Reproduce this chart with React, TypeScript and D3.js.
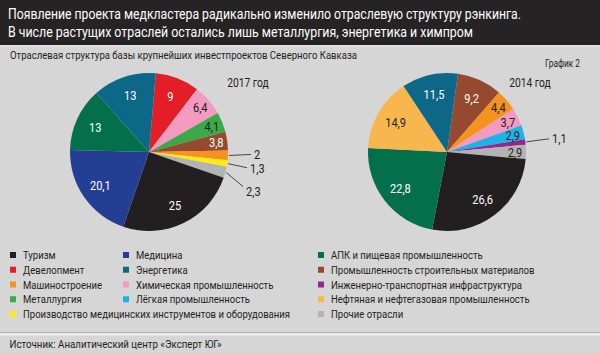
import React, { useEffect, useRef } from 'react';
import * as d3 from 'd3';

const titleLines = [
  'Появление проекта медкластера радикально изменило отраслевую структуру рэнкинга.',
  'В числе растущих отраслей остались лишь металлургия, энергетика и химпром',
];
const subtitle = 'Отраслевая структура базы крупнейших инвестпроектов Северного Кавказа';
const chartNo = 'График 2';
const sourceText = 'Источник: Аналитический центр «Эксперт ЮГ»';

const industries = [
  { key: 'tour', name: 'Туризм', color: '#231f20', text: '#fff' },
  { key: 'dev', name: 'Девелопмент', color: '#e41e26', text: '#fff' },
  { key: 'mash', name: 'Машиностроение', color: '#f6921e', text: '#231f20' },
  { key: 'met', name: 'Металлургия', color: '#3aaa49', text: '#231f20' },
  { key: 'medinst', name: 'Производство медицинских инструментов и оборудования', color: '#fdeb12', text: '#231f20' },
  { key: 'med', name: 'Медицина', color: '#233e92', text: '#fff' },
  { key: 'energy', name: 'Энергетика', color: '#0d6887', text: '#fff' },
  { key: 'chem', name: 'Химическая промышленность', color: '#f39ac0', text: '#231f20' },
  { key: 'light', name: 'Лёгкая промышленность', color: '#1db3e8', text: '#231f20' },
  { key: 'agro', name: 'АПК и пищевая промышленность', color: '#03704b', text: '#fff' },
  { key: 'build', name: 'Промышленность строительных материалов', color: '#954a30', text: '#fff' },
  { key: 'infra', name: 'Инженерно-транспортная инфраструктура', color: '#93288f', text: '#fff' },
  { key: 'oil', name: 'Нефтяная и нефтегазовая промышленность', color: '#f8b74e', text: '#231f20' },
  { key: 'other', name: 'Прочие отрасли', color: '#b3b3b3', text: '#231f20' },
];

// legend columns (keys, top to bottom)
const legendColumns = [
  ['tour', 'dev', 'mash', 'met', 'medinst'],
  ['med', 'energy', 'chem', 'light'],
  ['agro', 'build', 'infra', 'oil', 'other'],
];

// slices clockwise from 12 o'clock
const keys2017 = ['dev', 'chem', 'met', 'build', 'mash', 'medinst', 'other', 'tour', 'med', 'agro', 'energy'];
const values2017 = [9, 6.4, 4.1, 3.8, 2, 1.3, 2.3, 25, 20.1, 13, 13];
const outside2017 = ['mash', 'medinst', 'other'];

const keys2014 = ['build', 'mash', 'chem', 'light', 'infra', 'other', 'tour', 'agro', 'oil', 'energy'];
const values2014 = [9.2, 4.4, 3.7, 2.9, 1.1, 2.9, 26.6, 22.8, 14.9, 11.5];
const outside2014 = ['infra'];

const FONT = "Roboto, 'Liberation Sans', sans-serif";
const INK = '#231f20';
const fmt = (v: number) => String(v).replace('.', ',');

type Slice = { key: string; value: number };

export default function App() {
  const svgRef = useRef<SVGSVGElement>(null);

  useEffect(() => {
    if (!svgRef.current) return;
    const svg = d3.select(svgRef.current);
    svg.selectAll('*').remove();
    const width = 600;
    const height = 354;
    const byKey = new Map(industries.map((d) => [d.key, d]));

    // squeeze text horizontally, the original uses a condensed face
    const squeeze = (sel: any, k: number) => {
      const w = (sel.node() as SVGTextElement).getComputedTextLength();
      sel.attr('textLength', w * k).attr('lengthAdjust', 'spacingAndGlyphs');
    };
    const fitTo = (sel: any, target: number) => {
      sel.attr('textLength', target).attr('lengthAdjust', 'spacingAndGlyphs');
    };

    svg.append('rect').attr('width', width).attr('height', height).attr('fill', '#d6d6d6');
    svg.append('rect').attr('width', width).attr('height', 45).attr('fill', '#262324');
    svg.append('rect').attr('y', 45).attr('width', width).attr('height', 2).attr('fill', '#e0e0e0');

    const titleWidths = [513, 465];
    titleLines.forEach((t, i) => {
      const s = svg.append('text')
        .attr('x', 8)
        .attr('y', 18.5 + i * 18.5)
        .attr('font-family', FONT)
        .style('font-size', '14.5px')
        .style('fill', '#fff')
        .text(t);
      fitTo(s, titleWidths[i]);
    });

    const sub = svg.append('text')
      .attr('x', 10)
      .attr('y', 59)
      .attr('font-family', FONT)
      .style('font-size', '11px')
      .style('fill', INK)
      .text(subtitle);
    fitTo(sub, 347);

    const gr = svg.append('text')
      .attr('x', 545)
      .attr('y', 66.5)
      .attr('font-family', FONT)
      .style('font-size', '10px')
      .style('fill', INK)
      .text(chartNo);
    fitTo(gr, 35);

    const r = 79;
    const pies = [
      { cx: 149, cy: 152, year: '2017 год', yearX: 248, keys: keys2017, values: values2017, outside: outside2017, offset: 5, leaderDy: [-1, 4, 14], labelDy: [0, 1, 5] },
      { cx: 447, cy: 152, year: '2014 год', yearX: 530, keys: keys2014, values: values2014, outside: outside2014, offset: 8, leaderDy: [-3], labelDy: [-1] },
    ];

    pies.forEach((p) => {
      const data: Slice[] = p.keys.map((k, i) => ({ key: k, value: p.values[i] }));
      const off = (p.offset * Math.PI) / 180;
      const arcs = d3.pie<Slice>()
        .sort(null)
        .value((d) => d.value)
        .startAngle(off)
        .endAngle(2 * Math.PI + off)(data);
      const arc = d3.arc<d3.PieArcDatum<Slice>>().innerRadius(0).outerRadius(r);
      const g = svg.append('g').attr('transform', `translate(${p.cx},${p.cy})`);

      g.selectAll('path')
        .data(arcs)
        .enter()
        .append('path')
        .attr('d', arc)
        .attr('fill', (d) => byKey.get(d.data.key)!.color);

      const outsideArcs = arcs.filter((d) => p.outside.includes(d.data.key));
      const inside = arcs.filter((d) => !p.outside.includes(d.data.key));

      g.selectAll('text.in')
        .data(inside)
        .enter()
        .append('text')
        .attr('class', 'in')
        .attr('transform', (d) => {
          const k = d.data.value >= 8 ? 0.75 : 0.86;
          const c = d3.arc<d3.PieArcDatum<Slice>>().innerRadius(0).outerRadius(r * k * 2).centroid(d);
          return `translate(${c[0]},${c[1]})`;
        })
        .attr('text-anchor', 'middle')
        .attr('dy', '0.36em')
        .attr('font-family', FONT)
        .style('font-size', '13px')
        .style('fill', (d) => byKey.get(d.data.key)!.text)
        .text((d) => fmt(d.data.value))
        .each(function () {
          squeeze(d3.select(this), 0.85);
        });

      // leader lines for thin slices
      outsideArcs.forEach((d, i) => {
        const mid = (d.startAngle + d.endAngle) / 2;
        const sx = Math.sin(mid) * (r + 1);
        const sy = -Math.cos(mid) * (r + 1);
        const ex = r + 23 - i * 4;
        const ey = sy + p.leaderDy[i];
        g.append('line')
          .attr('x1', sx)
          .attr('y1', sy)
          .attr('x2', ex)
          .attr('y2', ey)
          .attr('stroke', INK)
          .attr('stroke-width', 0.8);
        const t = g.append('text')
          .attr('x', ex + 3)
          .attr('y', ey + p.labelDy[i])
          .attr('dy', '0.36em')
          .attr('font-family', FONT)
          .style('font-size', '13px')
          .style('fill', INK)
          .text(fmt(d.data.value));
        squeeze(t, 0.85);
      });

      const yl = svg.append('text')
        .attr('x', p.yearX)
        .attr('y', 87)
        .attr('text-anchor', 'middle')
        .attr('font-family', FONT)
        .style('font-size', '12.5px')
        .style('fill', INK)
        .text(p.year);
      squeeze(yl, 0.82);
    });

    // legend
    const colX = [10, 123, 318];
    const rowY = d3.scaleLinear().domain([0, 1]).range([255, 269.75]);
    const probe = svg.append('text')
      .attr('font-family', FONT)
      .style('font-size', '11.5px')
      .text(byKey.get('medinst')!.name);
    const legendK = 267 / (probe.node() as SVGTextElement).getComputedTextLength();
    probe.remove();
    legendColumns.forEach((col, ci) => {
      col.forEach((k, ri) => {
        const item = byKey.get(k)!;
        const y = rowY(ri);
        svg.append('rect')
          .attr('x', colX[ci])
          .attr('y', y - 3)
          .attr('width', 6)
          .attr('height', 6)
          .attr('fill', item.color);
        const t = svg.append('text')
          .attr('x', colX[ci] + 13)
          .attr('y', y)
          .attr('dy', '0.36em')
          .attr('font-family', FONT)
          .style('font-size', '11.5px')
          .style('fill', INK)
          .text(item.name);
        squeeze(t, legendK);
      });
    });

    svg.append('rect').attr('y', 332).attr('width', width).attr('height', 1).attr('fill', '#b5b5b5');
    svg.append('rect').attr('y', 333.5).attr('width', width).attr('height', 2).attr('fill', '#efefef');
    const src = svg.append('text')
      .attr('x', 9.5)
      .attr('y', 344)
      .attr('dy', '0.36em')
      .attr('font-family', FONT)
      .style('font-size', '11px')
      .style('fill', INK)
      .text(sourceText);
    fitTo(src, 212);
  }, []);

  return (
    <svg
      ref={svgRef}
      width={600}
      height={354}
      style={{ position: 'absolute', left: 0, top: 0, display: 'block' }}
    />
  );
}
